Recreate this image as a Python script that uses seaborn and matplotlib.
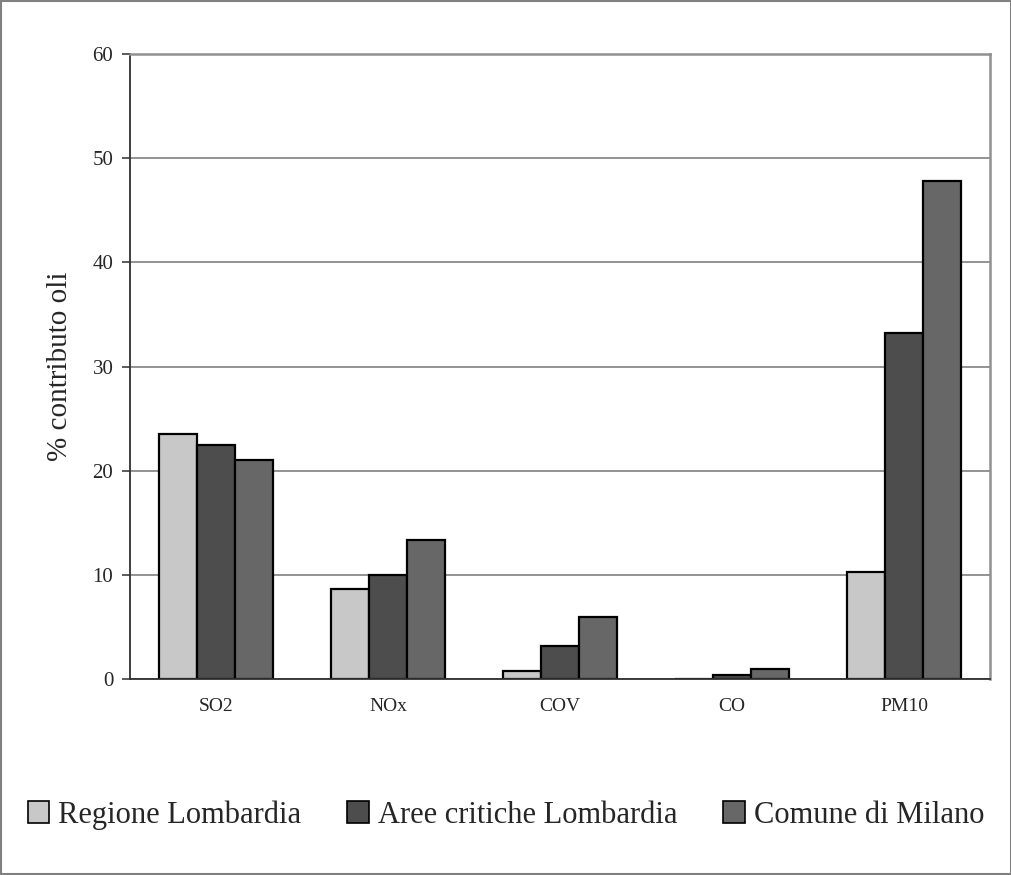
import pandas as pd
import matplotlib.pyplot as plt
import seaborn as sns
from matplotlib.patches import Rectangle

inquinanti = ["SO2", "NOx", "COV", "CO", "PM10"]
regione = [23.5, 8.6, 0.8, 0.0, 10.3]
aree_critiche = [22.5, 10.0, 3.2, 0.4, 33.2]
milano = [21.0, 13.3, 6.0, 1.0, 47.8]
serie = ["Regione Lombardia", "Aree critiche Lombardia", "Comune di Milano"]
colori = ["#c8c8c8", "#4d4d4d", "#676767"]

df = pd.DataFrame({
    "inquinante": inquinanti * 3,
    "valore": regione + aree_critiche + milano,
    "serie": [s for s in serie for _ in inquinanti],
})

sns.set_style("white")
plt.rcParams["font.family"] = ["Liberation Serif", "DejaVu Serif"]

fig = plt.figure(figsize=(10.12, 8.75), dpi=100)
ax = fig.add_axes([130/1012, 1-679/875, 860/1012, 625/875])

sns.barplot(
    data=df, x="inquinante", y="valore", hue="serie",
    palette=colori, width=0.66, gap=0, edgecolor="black",
    linewidth=1.6, saturation=1, ax=ax, legend=False
)

ax.set_ylim(0, 60)
ax.set_xlim(-0.5, 4.5)
ax.set_yticks(range(0, 61, 10))
ax.yaxis.grid(True, color="#808080", linewidth=1.2)
ax.set_axisbelow(True)
ax.set_xlabel("")
ax.set_ylabel("% contributo oli", fontsize=21, labelpad=14)

ax.set_xticks(range(5))
ax.set_xticklabels(inquinanti, fontsize=14)
ax.set_xticks([i - 0.5 for i in range(6)], minor=True)
ax.tick_params(axis="x", which="major", length=0, pad=14)
ax.tick_params(axis="x", which="minor", length=6, width=1.2, color="#404040", direction="out")
ax.tick_params(axis="y", length=6, width=1.2, color="#404040", direction="out", labelsize=15, pad=6)
ax.yaxis.set_tick_params(left=True)

for lato in ["left", "bottom"]:
    ax.spines[lato].set_color("#303030")
    ax.spines[lato].set_linewidth(1.3)
for lato in ["top", "right"]:
    ax.spines[lato].set_color("#909090")
    ax.spines[lato].set_linewidth(1.8)

maniglie = [Rectangle((0, 0), 1, 1, facecolor=c, edgecolor="black", linewidth=1.2) for c in colori]
fig.legend(maniglie, serie, loc="center", bbox_to_anchor=(0.5, 1-815/875), ncol=3,
           frameon=False, fontsize=22, handlelength=0.7, handleheight=0.7,
           handletextpad=0.3, columnspacing=1.5)

fig.patches.append(Rectangle((0.001, 0.001), 0.998, 0.998, transform=fig.transFigure,
                             fill=False, edgecolor="#808080", linewidth=1.5))

fig.savefig("out.png", dpi=100)
